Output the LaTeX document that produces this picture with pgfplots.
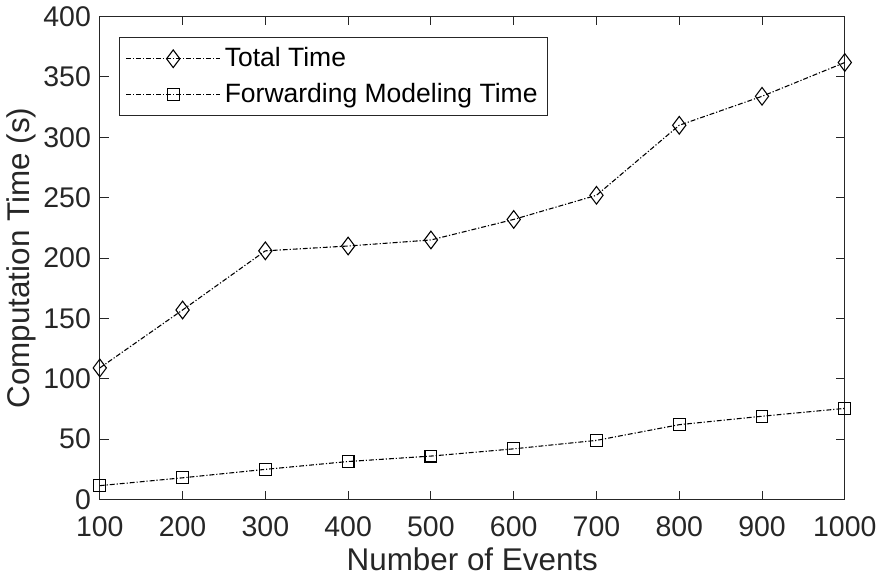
\documentclass[border=0pt]{standalone}
\usepackage{pgfplots}
\pgfplotsset{compat=1.18}
\usepackage{fontspec}
\setmainfont{Liberation Sans}
\definecolor{axgray}{rgb}{0.15,0.15,0.15}
\begin{document}
\begin{tikzpicture}
\begin{axis}[
  scale only axis,
  width=379.5pt, height=246pt,
  xmin=100, xmax=1000, ymin=0, ymax=400,
  xtick={100,200,...,1000}, ytick={0,50,...,400},
  tick align=inside,
  major tick length=4.5pt,
  axis line style={axgray, line width=0.5pt},
  every tick/.style={axgray, line width=0.5pt},
  tick label style={font=\fontsize{14.5}{15}\selectfont, text=axgray},
  xticklabel style={yshift=-5pt},
  yticklabel style={xshift=-1pt},
  /pgf/number format/assume math mode=true,
  /pgf/number format/1000 sep={},
  xlabel={Number of Events},
  ylabel={Computation Time (s)},
  label style={font=\fontsize{16}{17}\selectfont, text=axgray},
  xlabel style={yshift=1pt},
  ylabel style={yshift=-3pt},
  legend style={at={(0.026,0.957)}, anchor=north west, draw=axgray, line width=0.5pt,
    font=\fontsize{13.5}{15}\selectfont, inner xsep=3pt, inner ysep=3pt, row sep=3pt},
  legend cell align=left,
  legend image code/.code={
    \draw[mark repeat=2, mark phase=2, #1] plot coordinates {(0pt,0pt) (24pt,0pt) (48pt,0pt)};
  },
]
\addplot[black, line width=0.55pt, dash pattern=on 2.5pt off 1pt on 0.6pt off 1pt, mark=diamond, mark size=4.5pt, mark options={solid, fill=none}]
coordinates {(100,109) (200,157) (300,206) (400,210) (500,215) (600,232) (700,252) (800,310) (900,334) (1000,362)};
\addlegendentry{Total Time}
\addplot[black, line width=0.55pt, dash pattern=on 2.5pt off 1pt on 0.6pt off 1pt, mark=square, mark size=3pt, mark options={solid, fill=none}]
coordinates {(100,11.5) (200,18) (300,25) (400,31.5) (500,36) (600,42) (700,49) (800,62) (900,69) (1000,75.5)};
\addlegendentry{Forwarding Modeling Time}
\end{axis}
\end{tikzpicture}
\end{document}
